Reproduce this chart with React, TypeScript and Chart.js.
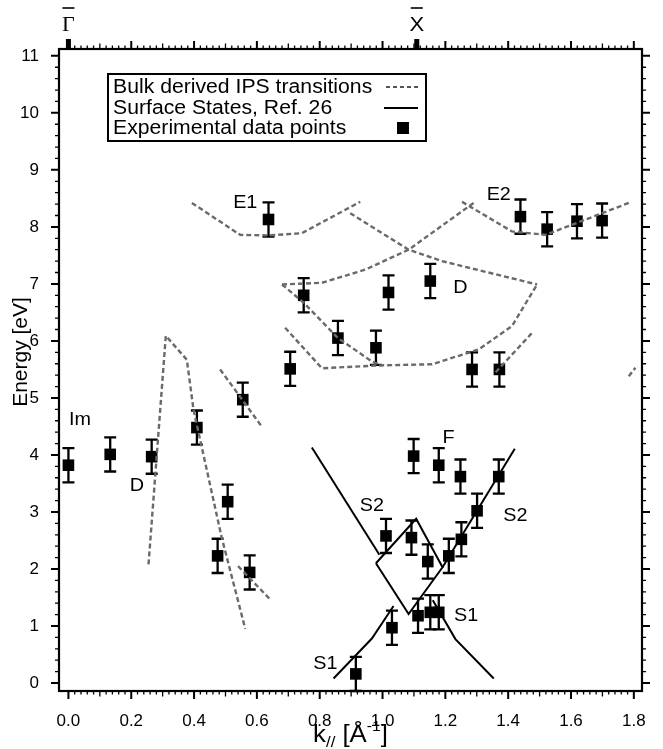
import React, { useEffect, useRef } from "react";
import { Chart, registerables } from "chart.js";
Chart.register(...registerables);

const FONT = '"Liberation Sans", Arial, Helvetica, sans-serif';
const SERIF = '"Liberation Serif", "DejaVu Serif", serif';

// ---------- Experimental data points (k//, energy, error) ----------
const expK = [0.0, 0.133, 0.265, 0.409, 0.475, 0.507, 0.555, 0.577, 0.637, 0.706, 0.749, 0.858, 0.979, 1.019, 1.152, 1.285, 1.372, 1.439, 1.524, 1.619, 1.699, 1.099, 1.179, 1.248, 1.37, 1.301, 1.251, 1.211, 1.144, 1.092, 1.011, 1.113, 1.152, 1.179, 1.03, 0.915];
const expE = [3.82, 4.01, 3.97, 4.48, 2.23, 3.18, 4.97, 1.94, 8.13, 5.51, 6.8, 6.05, 5.88, 6.85, 7.05, 5.5, 5.5, 8.18, 7.96, 8.1, 8.11, 3.98, 3.82, 3.62, 3.62, 3.02, 2.52, 2.23, 2.13, 2.55, 2.58, 1.18, 1.24, 1.24, 0.97, 0.16];
const expErr = [0.3, 0.3, 0.3, 0.3, 0.3, 0.3, 0.3, 0.3, 0.3, 0.3, 0.3, 0.3, 0.3, 0.3, 0.3, 0.3, 0.3, 0.3, 0.3, 0.3, 0.3, 0.3, 0.3, 0.3, 0.3, 0.3, 0.3, 0.3, 0.3, 0.3, 0.3, 0.3, 0.3, 0.3, 0.3, 0.3];

// ---------- Bulk derived IPS transitions (dashed) ----------
const bulkPeakK = [0.255, 0.31, 0.377, 0.398, 0.488, 0.563];
const bulkPeakE = [2.08, 6.09, 5.67, 4.8, 2.55, 0.95];
const bulkShortAK = [0.483, 0.614];
const bulkShortAE = [5.5, 4.51];
const bulkShortBK = [0.54, 0.645];
const bulkShortBE = [2.05, 1.45];
const bulkE1K = [0.393, 0.547, 0.637, 0.743, 0.929];
const bulkE1E = [8.42, 7.86, 7.85, 7.89, 8.44];
const bulkUpK = [0.68, 0.807, 0.945, 1.083, 1.29];
const bulkUpE = [6.99, 7.02, 7.25, 7.6, 8.42];
const bulkDownK = [0.897, 1.083, 1.189, 1.492];
const bulkDownE = [8.24, 7.6, 7.4, 6.99];
const bulkMidK = [0.68, 0.749, 0.858, 0.966, 0.988];
const bulkMidE = [6.99, 6.67, 6.05, 5.64, 5.59];
const bulkLowK = [0.69, 0.807, 0.988, 1.157, 1.306, 1.412, 1.492];
const bulkLowE = [6.23, 5.52, 5.57, 5.59, 5.85, 6.26, 6.99];
const bulkRiseK = [1.36, 1.481];
const bulkRiseE = [5.45, 6.17];
const bulkE2K = [1.253, 1.412, 1.519, 1.784];
const bulkE2E = [8.44, 7.92, 7.86, 8.42];
const bulkEdgeK = [1.784, 1.805];
const bulkEdgeE = [5.38, 5.53];

// ---------- Surface states, Ref. 26 (solid) ----------
const ssDescK = [0.775, 0.99];
const ssDescE = [4.13, 2.25];
const ssDiamondK = [0.979, 1.107, 1.191, 1.083, 0.979];
const ssDiamondE = [2.1, 2.88, 2.03, 1.21, 2.1];
const ssS2K = [1.191, 1.421];
const ssS2E = [2.03, 4.11];
const ssS1aK = [0.844, 0.966, 1.035];
const ssS1aE = [0.08, 0.78, 1.35];
const ssS1bK = [1.16, 1.232, 1.354];
const ssS1bE = [1.45, 0.77, 0.08];

// ---------- Text labels ----------
const labelText = ["Im", "D", "E1", "E2", "D", "F", "S2", "S2", "S1", "S1"];
const labelK = [0.037, 0.218, 0.563, 1.37, 1.248, 1.21, 0.966, 1.423, 1.266, 0.818];
const labelE = [4.62, 3.46, 8.42, 8.55, 6.93, 4.3, 3.11, 2.93, 1.18, 0.33];

const symText = ["\u0393", "X"];
const symK = [0, 1.109];

const legendLabels = ["Bulk derived IPS transitions", "Surface States, Ref. 26", "Experimental data points"];

const xTitle = ["k", "//", " [\u00C5", "-1", "]"];
const yTitle = "Energy [eV]";

const X_MIN = -0.03, X_MAX = 1.826, Y_MIN = -0.14, Y_MAX = 11.12;

const pts = (k: number[], e: number[]) => k.map((v, i) => ({ x: v, y: e[i] }));

const bulkSets = [
  [bulkPeakK, bulkPeakE], [bulkShortAK, bulkShortAE], [bulkShortBK, bulkShortBE],
  [bulkE1K, bulkE1E], [bulkUpK, bulkUpE], [bulkDownK, bulkDownE], [bulkMidK, bulkMidE],
  [bulkLowK, bulkLowE], [bulkRiseK, bulkRiseE], [bulkE2K, bulkE2E], [bulkEdgeK, bulkEdgeE],
];
const surfSets = [
  [ssDescK, ssDescE], [ssDiamondK, ssDiamondE], [ssS2K, ssS2E], [ssS1aK, ssS1aE], [ssS1bK, ssS1bE],
];

// draw text stretched horizontally (the original typeface is wider than Liberation Sans)
function wideText(ctx: any, s: string, x: number, y: number, sx: number, align: string) {
  ctx.save();
  ctx.translate(x, y);
  ctx.scale(sx, 1);
  ctx.textAlign = align;
  ctx.fillText(s, 0, 0);
  ctx.restore();
}

const decorPlugin = {
  id: "decor",
  beforeDatasetsDraw(chart: any) {
    const { ctx, scales } = chart;
    const x = scales.x, y = scales.y;
    ctx.save();
    ctx.strokeStyle = "#000";
    ctx.lineWidth = 2.3;
    for (let i = 0; i < expK.length; i++) {
      const px = x.getPixelForValue(expK[i]);
      const t = y.getPixelForValue(expE[i] + expErr[i]);
      const b = y.getPixelForValue(expE[i] - expErr[i]);
      ctx.beginPath();
      ctx.moveTo(px, t); ctx.lineTo(px, b);
      ctx.moveTo(px - 6, t); ctx.lineTo(px + 6, t);
      ctx.moveTo(px - 6, b); ctx.lineTo(px + 6, b);
      ctx.stroke();
    }
    ctx.restore();
  },
  afterDatasetsDraw(chart: any) {
    const { ctx, scales } = chart;
    const x = scales.x, y = scales.y;
    ctx.save();
    ctx.fillStyle = "#000";
    ctx.font = `18px ${FONT}`;
    ctx.textBaseline = "middle";
    for (let i = 0; i < labelText.length; i++) {
      wideText(ctx, labelText[i], x.getPixelForValue(labelK[i]), y.getPixelForValue(labelE[i]), 1.1, "center");
    }
    ctx.restore();
  },
  afterDraw(chart: any) {
    const { ctx, scales, chartArea } = chart;
    const x = scales.x, y = scales.y;
    const { left, right, top, bottom } = chartArea;
    ctx.save();
    ctx.strokeStyle = "#000";
    // minor / major ticks, outward on all four sides
    for (let i = 0; i <= 90; i++) {
      const px = x.getPixelForValue(i * 0.02);
      const major = i % 10 === 0, mid = i % 5 === 0;
      const len = major ? 8 : mid ? 5.5 : 3.5;
      ctx.lineWidth = major ? 2 : 1.3;
      ctx.beginPath();
      ctx.moveTo(px, bottom); ctx.lineTo(px, bottom + len);
      ctx.moveTo(px, top); ctx.lineTo(px, top - len);
      ctx.stroke();
    }
    for (let j = 0; j <= 55; j++) {
      const py = y.getPixelForValue(j * 0.2);
      const major = j % 5 === 0;
      const len = major ? 8 : 4;
      ctx.lineWidth = major ? 2 : 1.3;
      ctx.beginPath();
      ctx.moveTo(left, py); ctx.lineTo(left - len, py);
      ctx.moveTo(right, py); ctx.lineTo(right + len, py);
      ctx.stroke();
    }
    // frame
    ctx.lineWidth = 2.2;
    ctx.strokeRect(left, top, right - left, bottom - top);

    // symmetry points
    for (let i = 0; i < symK.length; i++) {
      const px = x.getPixelForValue(symK[i]);
      ctx.fillStyle = "#000";
      ctx.fillRect(px - 2.5, top - 10, 5, 11);
      ctx.font = i === 0 ? `21px ${SERIF}` : `21px ${FONT}`;
      ctx.textBaseline = "middle";
      wideText(ctx, symText[i], px, 25, 1.05, "center");
      ctx.lineWidth = 1.6;
      ctx.beginPath();
      ctx.moveTo(px - 6, 8); ctx.lineTo(px + 6, 8);
      ctx.stroke();
    }

    // y title
    ctx.save();
    ctx.translate(21, 352);
    ctx.rotate(-Math.PI / 2);
    ctx.font = `21px ${FONT}`;
    ctx.textAlign = "center";
    ctx.textBaseline = "middle";
    ctx.fillStyle = "#000";
    ctx.fillText(yTitle, 0, 0);
    ctx.restore();

    // x title with subscript and superscript
    const fonts = [`23px ${FONT}`, `15px ${FONT}`, `23px ${FONT}`, `14px ${FONT}`, `23px ${FONT}`];
    const dy = [0, 7, 0, -9, 0];
    const sx = 1.12;
    let total = 0;
    const widths: number[] = [];
    for (let i = 0; i < xTitle.length; i++) {
      ctx.font = fonts[i];
      const w = ctx.measureText(xTitle[i]).width * sx;
      widths.push(w);
      total += w;
    }
    let cx = (left + right) / 2 - total / 2;
    ctx.textBaseline = "middle";
    ctx.fillStyle = "#000";
    for (let i = 0; i < xTitle.length; i++) {
      ctx.font = fonts[i];
      wideText(ctx, xTitle[i], cx, 736 + dy[i], sx, "left");
      cx += widths[i];
    }

    // legend
    const lx = 108, ly = 74, lw = 318, lh = 67;
    ctx.fillStyle = "#fff";
    ctx.fillRect(lx, ly, lw, lh);
    ctx.lineWidth = 2;
    ctx.strokeStyle = "#000";
    ctx.strokeRect(lx, ly, lw, lh);
    ctx.font = `20px ${FONT}`;
    ctx.fillStyle = "#000";
    ctx.textBaseline = "middle";
    const rows = [ly + 13, ly + 34, ly + 54];
    for (let i = 0; i < legendLabels.length; i++) wideText(ctx, legendLabels[i], lx + 5, rows[i], 1.06, "left");
    const rx = lx + lw;
    ctx.strokeStyle = "#555";
    ctx.lineWidth = 2;
    ctx.setLineDash([4, 3]);
    ctx.beginPath(); ctx.moveTo(rx - 40, rows[0]); ctx.lineTo(rx - 6, rows[0]); ctx.stroke();
    ctx.setLineDash([]);
    ctx.strokeStyle = "#000";
    ctx.beginPath(); ctx.moveTo(rx - 42, rows[1]); ctx.lineTo(rx - 8, rows[1]); ctx.stroke();
    ctx.fillRect(rx - 29, rows[2] - 6, 12, 12);
    ctx.restore();
  },
};

export default function App() {
  const ref = useRef<HTMLCanvasElement>(null);
  useEffect(() => {
    document.body.style.margin = "0";
    const datasets: any[] = [
      {
        label: "Experimental data points",
        data: pts(expK, expE),
        showLine: false,
        pointStyle: "rect",
        pointRadius: 8.2,
        backgroundColor: "#000",
        borderColor: "#000",
        borderWidth: 0,
        order: 3,
      },
    ];
    bulkSets.forEach(([k, e]) =>
      datasets.push({
        label: "Bulk derived IPS transitions",
        data: pts(k, e),
        showLine: true,
        pointRadius: 0,
        borderColor: "#6a6a6a",
        borderWidth: 2.4,
        borderDash: [5, 3],
        tension: 0,
        order: 1,
      })
    );
    surfSets.forEach(([k, e]) =>
      datasets.push({
        label: "Surface States, Ref. 26",
        data: pts(k, e),
        showLine: true,
        pointRadius: 0,
        borderColor: "#000",
        borderWidth: 2,
        tension: 0,
        order: 2,
      })
    );
    const chart = new Chart(ref.current as HTMLCanvasElement, {
      type: "scatter",
      data: { datasets },
      options: {
        responsive: false,
        animation: false,
        devicePixelRatio: 1,
        layout: { padding: { left: 0, top: 49, right: 21, bottom: 0 } },
        plugins: { legend: { display: false }, tooltip: { enabled: false } },
        scales: {
          x: {
            type: "linear",
            position: "bottom",
            min: X_MIN,
            max: X_MAX,
            grid: { display: false },
            border: { display: false },
            ticks: {
              stepSize: 0.2,
              includeBounds: false,
              autoSkip: false,
              maxRotation: 0,
              padding: 12,
              color: "#000",
              font: { family: FONT, size: 17 },
              callback: (v: any) => Number(v).toFixed(1),
            },
            afterFit: (s: any) => { s.height = 58; },
          },
          y: {
            type: "linear",
            min: Y_MIN,
            max: Y_MAX,
            grid: { display: false },
            border: { display: false },
            ticks: {
              stepSize: 1,
              includeBounds: false,
              autoSkip: false,
              padding: 12,
              color: "#000",
              font: { family: FONT, size: 17 },
              callback: (v: any) => String(Math.round(Number(v))),
            },
            afterFit: (s: any) => { s.width = 59; },
          },
        },
      } as any,
      plugins: [decorPlugin],
    });
    return () => chart.destroy();
  }, []);
  return (
    <div style={{ position: "absolute", left: 0, top: 0, width: 663, height: 749, background: "#fff" }}>
      <canvas ref={ref} width={663} height={749} style={{ width: 663, height: 749, display: "block" }} />
    </div>
  );
}
